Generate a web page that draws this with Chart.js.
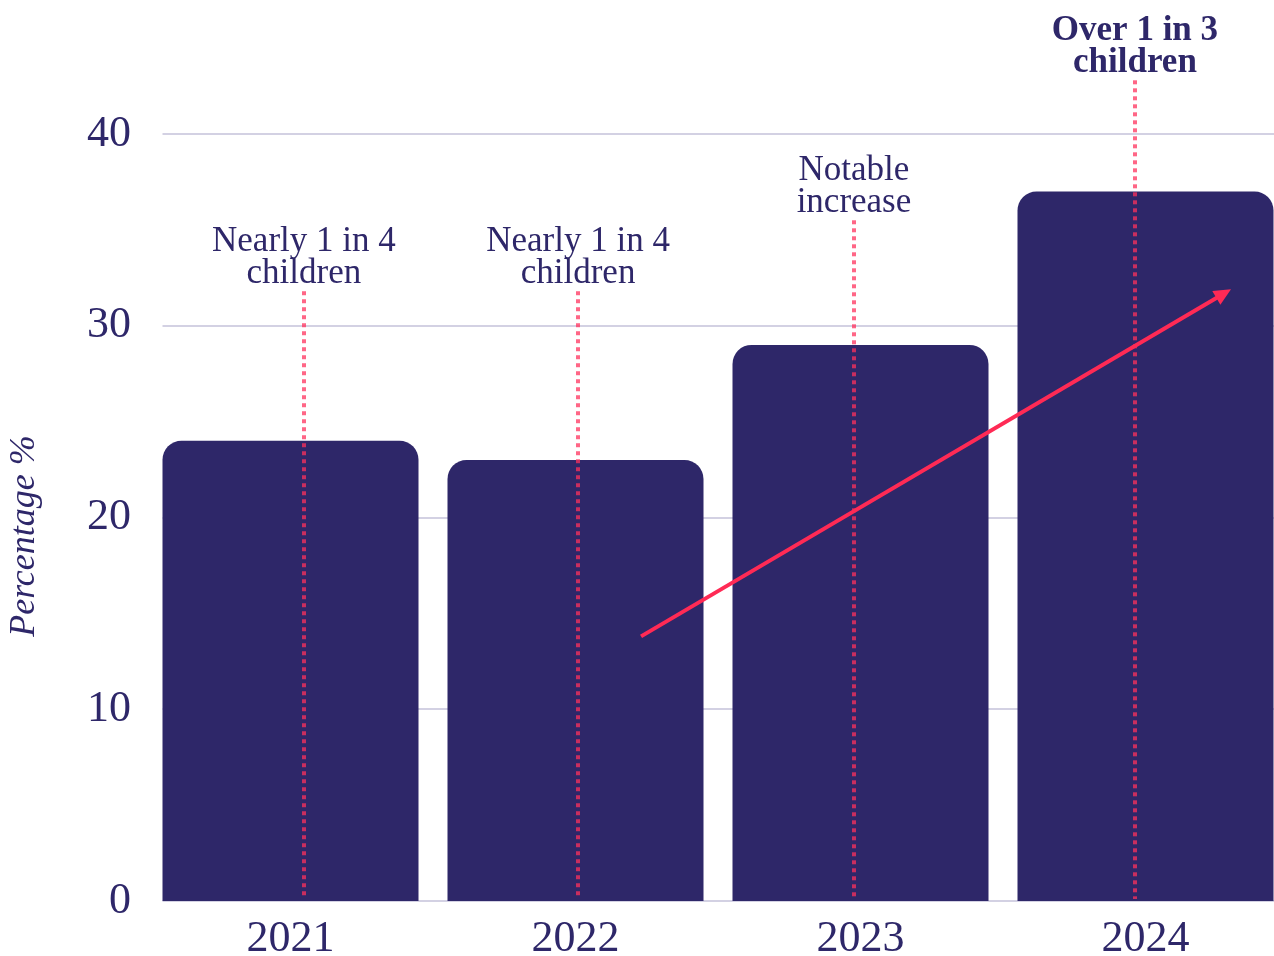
<!DOCTYPE html>
<html>
<head>
<meta charset="utf-8">
<script src="https://cdn.jsdelivr.net/npm/chart.js@4/dist/chart.umd.min.js"></script>
<style>
  html, body { margin: 0; padding: 0; overflow: hidden; background: #ffffff; }
  #wrap { width: 1288px; height: 956px; }
</style>
</head>
<body>
<div id="wrap"><canvas id="chart" width="1288" height="956"></canvas></div>
<script>
// Share of children, by year (%)
const years = ['2021', '2022', '2023', '2024'];
const shares = [24, 23, 29, 37];
const yTicks = [0, 10, 20, 30, 40];

// Callouts: text lines, category position of the leader line, value where it starts
const noteLines = [
  ['Nearly 1 in 4', 'children'],
  ['Nearly 1 in 4', 'children'],
  ['Notable', 'increase'],
  ['Over 1 in 3', 'children']
];
const noteAt = [0.047, 1.009, 1.977, 2.963];
const noteTop = [31.8, 31.8, 35.5, 42.8];
const noteBold = [false, false, false, true];

// Trend arrow, [category position, value]
const trendFrom = [1.23, 13.8];
const trendTo = [3.30, 31.9];

const ink = '#2e2769';
const pink = '#ff2a55';
const serif = '"Liberation Serif", "Times New Roman", serif';

// Horizontal guides starting at the first bar's left edge
const guidePlugin = {
  id: 'guides',
  beforeDatasetsDraw(chart) {
    const { ctx, chartArea, scales: { y } } = chart;
    const first = chart.getDatasetMeta(0).data[0];
    const left = first.x - first.width / 2;
    ctx.save();
    ctx.strokeStyle = '#d3d1e3';
    ctx.lineWidth = 2;
    yTicks.forEach(v => {
      const py = Math.round(y.getPixelForValue(v));
      ctx.beginPath();
      ctx.moveTo(left, py);
      ctx.lineTo(chartArea.right, py);
      ctx.stroke();
    });
    ctx.restore();
  }
};

// Leader lines, callout text, trend arrow and the axis title
const calloutPlugin = {
  id: 'callouts',
  afterDatasetsDraw(chart) {
    const { ctx, scales: { x, y } } = chart;
    const base = y.getPixelForValue(0);
    ctx.save();

    // dotted leader lines
    ctx.strokeStyle = 'rgba(255, 48, 92, 0.74)';
    ctx.lineWidth = 4;
    ctx.setLineDash([4, 4]);
    noteAt.forEach((pos, i) => {
      const px = Math.round(x.getPixelForValue(pos));
      ctx.beginPath();
      ctx.moveTo(px, y.getPixelForValue(noteTop[i]));
      ctx.lineTo(px, base - 2);
      ctx.stroke();
    });
    ctx.setLineDash([]);

    // callout text
    ctx.fillStyle = ink;
    ctx.textAlign = 'center';
    ctx.textBaseline = 'alphabetic';
    noteLines.forEach((lines, i) => {
      const px = x.getPixelForValue(noteAt[i]);
      const last = y.getPixelForValue(noteTop[i]) - 8;
      ctx.font = (noteBold[i] ? 'bold ' : '') + '35px ' + serif;
      lines.forEach((t, k) => {
        ctx.fillText(t, px, last - (lines.length - 1 - k) * 32);
      });
    });

    // trend arrow
    const x0 = x.getPixelForValue(trendFrom[0]);
    const y0 = y.getPixelForValue(trendFrom[1]);
    const x1 = x.getPixelForValue(trendTo[0]);
    const y1 = y.getPixelForValue(trendTo[1]);
    const ang = Math.atan2(y1 - y0, x1 - x0);
    const head = 17, half = 8;
    ctx.strokeStyle = pink;
    ctx.fillStyle = pink;
    ctx.lineWidth = 4;
    ctx.beginPath();
    ctx.moveTo(x0, y0);
    ctx.lineTo(x1 - Math.cos(ang) * (head - 2), y1 - Math.sin(ang) * (head - 2));
    ctx.stroke();
    ctx.beginPath();
    ctx.moveTo(x1, y1);
    ctx.lineTo(x1 - Math.cos(ang) * head - Math.sin(ang) * half,
               y1 - Math.sin(ang) * head + Math.cos(ang) * half);
    ctx.lineTo(x1 - Math.cos(ang) * head + Math.sin(ang) * half,
               y1 - Math.sin(ang) * head - Math.cos(ang) * half);
    ctx.closePath();
    ctx.fill();

    // y axis title
    ctx.translate(25, 536);
    ctx.rotate(-Math.PI / 2);
    ctx.fillStyle = ink;
    ctx.font = 'italic 36px ' + serif;
    ctx.textAlign = 'center';
    ctx.textBaseline = 'middle';
    ctx.fillText('Percentage %', 0, 0);

    ctx.restore();
  }
};

new Chart(document.getElementById('chart'), {
  type: 'bar',
  data: {
    labels: years,
    datasets: [{
      data: shares,
      backgroundColor: ink,
      borderRadius: 19,
      borderSkipped: 'start',
      barPercentage: 256 / 285,
      categoryPercentage: 1
    }]
  },
  options: {
    responsive: false,
    animation: false,
    events: [],
    layout: { padding: { top: 134, left: 0, right: 0, bottom: 0 } },
    plugins: { legend: { display: false }, tooltip: { enabled: false } },
    scales: {
      x: {
        grid: { display: false, drawTicks: false },
        border: { display: false },
        ticks: { color: ink, font: { family: serif, size: 44 }, padding: 12 },
        afterFit(s) { s.height = 55; }
      },
      y: {
        min: 0,
        max: 40,
        grid: { display: false, drawTicks: false },
        border: { display: false },
        ticks: {
          stepSize: 10,
          color: ink,
          font: { family: serif, size: 44 },
          padding: 17
        },
        afterFit(s) { s.width = 148; }
      }
    }
  },
  plugins: [guidePlugin, calloutPlugin]
});
</script>
</body>
</html>
